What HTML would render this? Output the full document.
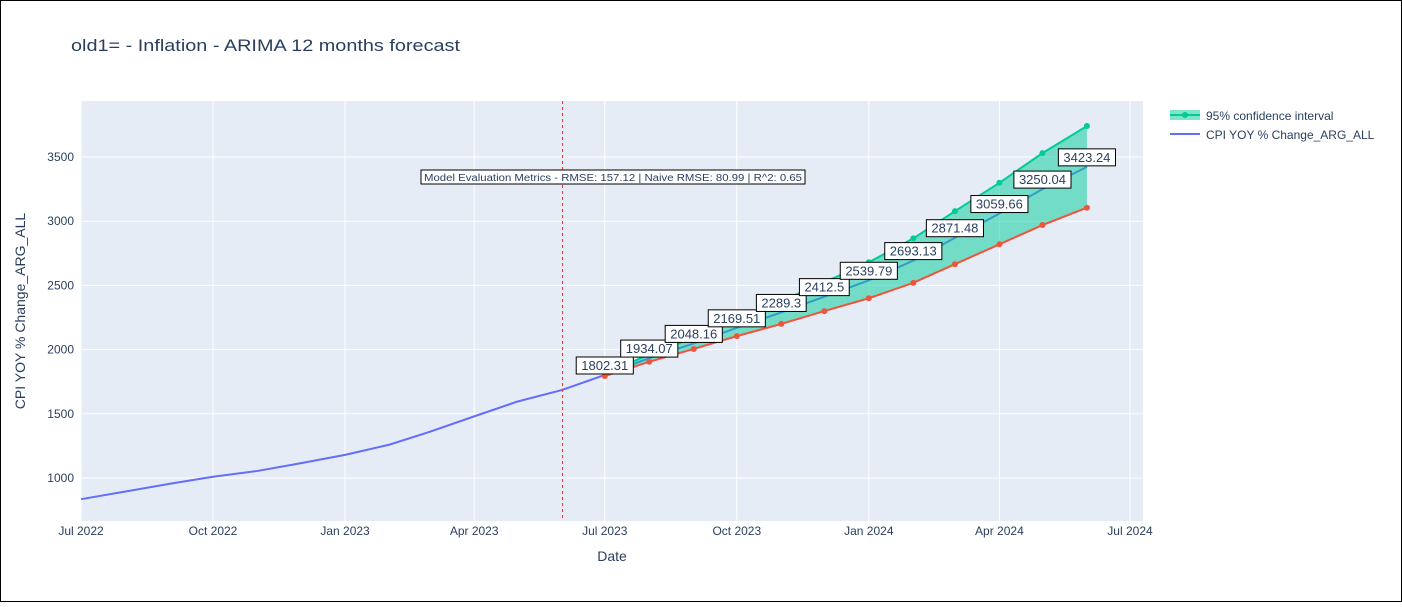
<!DOCTYPE html>
<html><head><meta charset="utf-8"><style>
body{margin:0;background:#fff}
svg text{font-family:"Liberation Sans",sans-serif;fill:#2a3f5f}
</style></head><body>
<svg id="chart" width="1402" height="602">
<rect x="0.5" y="0.5" width="1401" height="601" fill="#fff" stroke="#000"/>
<text x="71" y="51" font-size="17" textLength="389" lengthAdjust="spacingAndGlyphs">old1= - Inflation - ARIMA 12 months forecast</text>
<rect x="81" y="101" width="1062" height="420" fill="#e5ecf6"/>
<g id="grid"></g><g id="marks"></g><g id="labels"></g>
<text x="612" y="561" font-size="14" text-anchor="middle">Date</text>
<text transform="translate(25,311) rotate(-90)" font-size="14" text-anchor="middle">CPI YOY % Change_ARG_ALL</text>
<g>
<rect x="1170" y="110" width="30" height="10" fill="rgba(0,204,150,0.5)"/>
<line x1="1170" y1="115" x2="1200" y2="115" stroke="#00cc96" stroke-width="2"/>
<circle cx="1185" cy="115" r="3" fill="#00cc96"/>
<text x="1206" y="120" font-size="12">95% confidence interval</text>
<line x1="1170" y1="134" x2="1200" y2="134" stroke="#636efa" stroke-width="2"/>
<text x="1206" y="139" font-size="12">CPI YOY % Change_ARG_ALL</text>
</g>
</svg>
<script>
const histDates=["2022-07-01","2022-08-01","2022-09-01","2022-10-01","2022-11-01","2022-12-01","2023-01-01","2023-02-01","2023-03-01","2023-04-01","2023-05-01","2023-06-01","2023-07-01"];
const histValues=[835,895,955,1010,1055,1115,1180,1260,1360,1480,1595,1685,1802.31];
const fcDates=["2023-07-01","2023-08-01","2023-09-01","2023-10-01","2023-11-01","2023-12-01","2024-01-01","2024-02-01","2024-03-01","2024-04-01","2024-05-01","2024-06-01"];
const fcValues=[1802.31,1934.07,2048.16,2169.51,2289.3,2412.5,2539.79,2693.13,2871.48,3059.66,3250.04,3423.24];
const lowerValues=[1794,1905,2005,2105,2200,2300,2400,2520,2665,2820,2970,3105];
const upperValues=[1811,1963,2091,2234,2379,2525,2680,2866,3078,3299,3530,3741];
const xTicks=["2022-07-01","2022-10-01","2023-01-01","2023-04-01","2023-07-01","2023-10-01","2024-01-01","2024-04-01","2024-07-01"];
const xTickLabels=["Jul 2022","Oct 2022","Jan 2023","Apr 2023","Jul 2023","Oct 2023","Jan 2024","Apr 2024","Jul 2024"];
const yTicks=[1000,1500,2000,2500,3000,3500];
const splitDate="2023-06-01";
const NS="http://www.w3.org/2000/svg";
const t0=Date.UTC(2022,6,1);
function X(d){return 81+(Date.parse(d)-t0)/86400000*1.435;}
function Y(v){return 478-(v-1000)*0.1284;}
function mk(tag,attrs,parent){const e=document.createElementNS(NS,tag);for(const k in attrs)e.setAttribute(k,attrs[k]);parent.appendChild(e);return e;}
const grid=document.getElementById('grid'),marks=document.getElementById('marks'),labels=document.getElementById('labels');
xTicks.forEach((d,i)=>{const x=X(d);
 const l=mk('line',{x1:x,x2:x,y1:101,y2:521,stroke:'#fff','stroke-width':1},grid);
 
 
 const t=mk('text',{x:x,y:535,'font-size':12,'text-anchor':'middle'},grid);t.textContent=xTickLabels[i];
 
 });
yTicks.forEach(v=>{const y=Y(v);
 const l=mk('line',{x1:81,x2:1143,y1:y,y2:y,stroke:'#fff','stroke-width':1},grid);
 
 
 const t=mk('text',{x:74,y:y+4,'font-size':12,'text-anchor':'end'},grid);t.textContent=v;
 
 });
const pts=(ds,vs)=>ds.map((d,i)=>X(d)+','+Y(vs[i])).join(' ');
let p=mk('polyline',{points:pts(histDates,histValues),fill:'none',stroke:'#636efa','stroke-width':2},marks);


p=mk('polyline',{points:pts(fcDates,fcValues),fill:'none',stroke:'#636efa','stroke-width':2},marks);


const band=pts(fcDates,upperValues)+' '+fcDates.slice().reverse().map((d,i)=>X(d)+','+Y(lowerValues[lowerValues.length-1-i])).join(' ');
p=mk('polygon',{points:band,fill:'rgba(0,204,150,0.5)'},marks);


[[upperValues,'#00cc96','upper-bound'],[lowerValues,'#EF553B','lower-bound']].forEach(([vs,c,n])=>{
 const l=mk('polyline',{points:pts(fcDates,vs),fill:'none',stroke:c,'stroke-width':2},marks);
 
 
 fcDates.forEach((d,i)=>{const ci=mk('circle',{cx:X(d),cy:Y(vs[i]),r:3,fill:c},marks);
  
  });});
const sx=Math.round(X(splitDate))+0.5;
p=mk('line',{x1:sx,x2:sx,y1:101,y2:521,stroke:'#e03a3a','stroke-width':1,'stroke-dasharray':'3,3'},marks);


fcDates.forEach((d,i)=>{const x=X(d),y=Y(fcValues[i]);const txt=String(fcValues[i]);
 const w=txt.length*7.3+6;
 const r=mk('rect',{x:x-w/2,y:y-18,width:w,height:17,fill:'#fff',stroke:'#000','stroke-width':1},labels);
 
 
 const t=mk('text',{x:x,y:y-5,'font-size':13,'text-anchor':'middle'},labels);t.textContent=txt;
 
 });
const mb=mk('rect',{x:421,y:170,width:384,height:14,fill:'#fff',stroke:'#000','stroke-width':1},labels);


const mt=mk('text',{x:613,y:181,'font-size':10,'text-anchor':'middle',textLength:378,lengthAdjust:'spacingAndGlyphs'},labels);
mt.textContent='Model Evaluation Metrics - RMSE: 157.12 | Naive RMSE: 80.99 | R^2: 0.65';


</script>
</body></html>
